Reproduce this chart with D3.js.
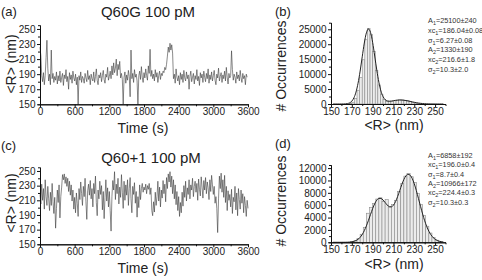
<!DOCTYPE html>
<html>
<head>
<meta charset="utf-8">
<script src="https://cdn.jsdelivr.net/npm/d3@7"></script>
<style>
  body { margin: 0; background: #fff; }
  svg { display: block; font-family: "Liberation Sans", Arial, sans-serif; }
  .axis path, .axis line { stroke: #111; stroke-width: 1; }
  .axis text { font-size: 10px; fill: #222; }
  .panel-tag { font-size: 13px; fill: #222; }
  .title { font-size: 15px; fill: #222; }
  .axis-title { font-size: 14px; fill: #222; }
  .fit-note { font-size: 7.3px; fill: #333; }
</style>
</head>
<body>
<svg id="chart" width="482" height="280"></svg>
<script>
// ---- data ----
const traceStep = 15; // seconds between samples
const timeTicks = [0, 600, 1200, 1800, 2400, 3000, 3600];
const radiusTicks = [150, 170, 190, 210, 230, 250];

// (a) Q60G 100 pM
const traceA = [
  226, 214, 188, 180, 192, 176, 188, 212, 235, 198,
  181, 190, 176, 222, 184, 191, 179, 187, 182, 193,
  177, 188, 181, 194, 179, 186, 191, 175, 189, 184,
  196, 180, 187, 170, 192, 183, 189, 178, 194, 185,
  181, 190, 176, 186, 150, 188, 182, 193, 179, 187,
  184, 178, 191, 185, 180, 195, 183, 188, 176, 190,
  184, 181, 193, 179, 187, 197, 182, 176, 189, 185,
  192, 180, 188, 195, 183, 178, 190, 186, 199, 182,
  187, 194, 184, 201, 189, 205, 192, 198, 210, 188,
  203, 196, 207, 185, 191, 183, 150, 186, 193, 178,
  189, 182, 195, 187, 160, 222, 184, 191, 179, 196,
  186, 190, 181, 150, 188, 194, 183, 200, 186, 179,
  192, 185, 197, 188, 182, 201, 191, 223, 187, 195,
  184, 190, 181, 196, 186, 192, 179, 188, 194, 183,
  191, 188, 194, 192, 199, 196, 203, 214, 226, 219,
  231, 222, 229, 218, 184, 190, 178, 197, 186, 181,
  188, 176, 192, 183, 190, 179, 195, 185, 181, 193,
  184, 189, 170, 187, 194, 180, 186, 191, 177, 188,
  183, 196, 181, 187, 175, 192, 185, 190, 179, 194,
  186, 180, 191, 184, 197, 178, 189, 183, 193, 181,
  188, 195, 182, 176, 190, 185, 198, 181, 187, 192,
  179, 189, 184, 194, 181, 199, 186, 177, 191, 185,
  188, 221, 196, 182, 190, 186, 178, 193, 184, 189,
  181, 195, 185, 179, 191, 184, 188, 176, 190, 186
];

// (c) Q60+1 100 pM
const traceC = [
  218, 205, 232, 210, 226, 198, 238, 215, 203, 229,
  212, 196, 221, 203, 233, 208, 192, 214, 172, 199,
  224, 207, 231, 186, 215, 228, 245, 238, 246, 233,
  242, 229, 240, 222, 236, 217, 231, 209, 224, 198,
  214, 193, 220, 206, 188, 226, 211, 235, 219, 203,
  229, 215, 240, 208, 184, 223, 232, 217, 237, 212,
  226, 201, 233, 219, 243, 207, 189, 224, 212, 236,
  218, 230, 197, 222, 185, 214, 238, 209, 227, 201,
  222, 196, 168, 215, 237, 224, 249, 211, 232, 219,
  240, 205, 228, 214, 245, 221, 199, 236, 210, 231,
  217, 238, 203, 226, 241, 212, 193, 229, 218, 234,
  206, 222, 187, 215, 200, 231, 211, 226, 233, 221,
  228, 224, 232, 219, 230, 225, 233, 218, 227, 196,
  189, 208, 194, 221, 203, 215, 236, 209, 228, 201,
  224, 213, 237, 219, 232, 208, 241, 226, 246, 235,
  249, 228, 243, 219, 238, 212, 231, 204, 222, 196,
  215, 188, 207, 193, 221, 202, 230, 214, 236, 209,
  227, 218, 238, 212, 231, 224, 240, 215, 229, 236,
  221, 233, 210, 239, 225, 216, 242, 228, 213, 237,
  224, 241, 219, 235, 227, 211, 238, 222, 244, 231,
  218, 229, 206, 215, 199, 166, 212, 243, 226, 247,
  221, 238, 214, 244, 207, 229, 196, 223, 210, 218,
  201, 225, 192, 214, 208, 229, 197, 220, 189, 226,
  211, 198, 224, 206, 219, 193, 215, 203, 188, 210, 199
];

// (b) histogram of trace (a)
const binsB = [168.75, 171.25, 173.75, 176.25, 178.75, 181.25, 183.75, 186.25, 188.75, 191.25,
  193.75, 196.25, 198.75, 201.25, 203.75, 206.25, 208.75, 211.25, 213.75, 216.25,
  218.75, 221.25, 223.75, 226.25, 228.75, 231.25, 233.75, 236.25];
const countsB = [150, 600, 1900, 4600, 8800, 14800, 21500, 25300, 23200, 17600,
  11200, 6400, 3100, 1500, 900, 800, 900, 1100, 1300, 1400,
  1350, 1200, 1050, 800, 550, 350, 200, 100];
const countTicksB = [0, 5000, 10000, 15000, 20000, 25000];

// (d) histogram of trace (c)
const binsD = [170.5, 173.5, 176.5, 179.5, 182.5, 185.5, 188.5, 191.5, 194.5, 197.5,
  200.5, 203.5, 206.5, 209.5, 212.5, 215.5, 218.5, 221.5, 224.5, 227.5,
  230.5, 233.5, 236.5, 239.5, 242.5, 245.5, 248.5, 251.5, 254.5];
const countsD = [120, 250, 620, 1300, 2400, 4700, 5600, 6300, 7000, 7200,
  6600, 6900, 5700, 6100, 6800, 8200, 9500, 10700, 11100, 10600,
  9700, 7900, 6100, 4300, 2600, 1500, 800, 350, 150];
const countTicksD = [0, 2000, 4000, 6000, 8000, 10000, 12000];

// fitted curves, sampled every 2 nm
const fitX = [152, 154, 156, 158, 160, 162, 164, 166, 168, 170, 172, 174, 176, 178, 180, 182, 184, 186,
  188, 190, 192, 194, 196, 198, 200, 202, 204, 206, 208, 210, 212, 214, 216, 218, 220, 222,
  224, 226, 228, 230, 232, 234, 236, 238, 240, 242, 244, 246, 248, 250, 252, 254, 256, 258];
const fitB = [0, 0, 0, 0, 5, 15, 50, 155, 400, 950, 2050, 3970, 6970, 11030, 15780, 20400, 23810, 25100,
  23930, 20610, 16050, 11330, 7290, 4330, 2470, 1470, 1040, 940, 990, 1100, 1210, 1290, 1330, 1320,
  1260, 1160, 1030, 880, 720, 570, 435, 320, 225, 155, 100, 65, 40, 23, 13, 7, 4, 2, 1, 0];
const fitD = [0, 0, 0, 0, 1, 3, 8, 18, 39, 79, 153, 280, 488, 807, 1265, 1881, 2654, 3553,
  4514, 5448, 6248, 6820, 7103, 7090, 6833, 6437, 6036, 5766, 5736, 6005, 6577, 7392, 8352, 9321,
  10163, 10751, 10997, 10852, 10324, 9462, 8353, 7103, 5817, 4586, 3483, 2547, 1794, 1216, 794, 500,
  302, 177, 99, 53];

const notesB = [["A", "1", "=25100±240"], ["xc", "1", "=186.04±0.08"], ["σ", "1", "=6.27±0.08"],
  ["A", "2", "=1330±190"], ["xc", "2", "=216.6±1.8"], ["σ", "2", "=10.3±2.0"]];
const notesD = [["A", "1", "=6858±192"], ["xc", "1", "=196.0±0.4"], ["σ", "1", "=8.7±0.4"],
  ["A", "2", "=10966±172"], ["xc", "2", "=224.4±0.3"], ["σ", "2", "=10.3±0.3"]];

const svg = d3.select('#chart');

// minor ticks halfway between majors
function halfSteps(ticks) {
  return ticks.slice(1).map((t, i) => (t + ticks[i]) / 2);
}

function drawAxes(g, xScale, yScale, xTicks, yTicks) {
  const y0 = yScale.range()[0];
  const x0 = xScale.range()[0];

  g.append('g').attr('class', 'axis')
      .attr('transform', `translate(0,${y0})`)
      .call(d3.axisBottom(xScale).tickValues(halfSteps(xTicks)).tickSize(2).tickFormat(''));
  g.append('g').attr('class', 'axis')
      .attr('transform', `translate(${x0},0)`)
      .call(d3.axisLeft(yScale).tickValues(halfSteps(yTicks)).tickSize(2).tickFormat(''));

  g.append('g').attr('class', 'axis')
      .attr('transform', `translate(0,${y0})`)
      .call(d3.axisBottom(xScale).tickValues(xTicks).tickSize(3).tickSizeOuter(0)
        .tickPadding(1).tickFormat(d3.format('d')));
  g.append('g').attr('class', 'axis')
      .attr('transform', `translate(${x0},0)`)
      .call(d3.axisLeft(yScale).tickValues(yTicks).tickSize(3).tickSizeOuter(0)
        .tickPadding(1.5).tickFormat(d3.format('d')));
}

function drawText(cfg) {
  svg.append('text').attr('class', 'panel-tag')
      .attr('x', cfg.tag[0]).attr('y', cfg.tag[1]).text(cfg.tagText);
  if (cfg.title) {
    svg.append('text').attr('class', 'title')
        .attr('x', cfg.title[0]).attr('y', cfg.title[1])
        .attr('text-anchor', 'middle').text(cfg.titleText);
  }
  svg.append('text').attr('class', 'axis-title')
      .attr('x', cfg.xTitle[0]).attr('y', cfg.xTitle[1])
      .attr('text-anchor', 'middle').text(cfg.xTitleText);
  svg.append('text').attr('class', 'axis-title')
      .attr('transform', `translate(${cfg.yTitle[0]},${cfg.yTitle[1]}) rotate(-90)`)
      .attr('text-anchor', 'middle').text(cfg.yTitleText);
}

function drawTrace(cfg, values) {
  const xScale = d3.scaleLinear().domain([0, 3600]).range([cfg.left, cfg.right]);
  const yScale = d3.scaleLinear().domain([150, 255]).range([cfg.bottom, cfg.top]);
  const g = svg.append('g');

  g.append('path')
      .datum(values)
      .attr('fill', 'none')
      .attr('stroke', '#3a3a3a')
      .attr('stroke-width', 0.6)
      .attr('d', d3.line().x((d, i) => xScale(i * traceStep)).y(d => yScale(d)));

  drawAxes(g, xScale, yScale, timeTicks, radiusTicks);
  drawText(cfg);
}

function drawHist(cfg, bins, counts, width, fit, yTicks, yMax, notes) {
  const xScale = d3.scaleLinear().domain([150, 260]).range([cfg.left, cfg.right]);
  const yScale = d3.scaleLinear().domain([0, yMax]).range([cfg.bottom, cfg.top]);
  const g = svg.append('g');

  g.selectAll('.bar')
      .data(bins)
    .join('rect')
      .attr('class', 'bar')
      .attr('x', d => xScale(d - width / 2))
      .attr('width', d => xScale(d + width / 2) - xScale(d - width / 2))
      .attr('y', (d, i) => yScale(counts[i]))
      .attr('height', (d, i) => yScale(0) - yScale(counts[i]))
      .attr('fill', '#ececec')
      .attr('stroke', '#8a8a8a')
      .attr('stroke-width', 0.6);

  g.append('path')
      .datum(fit)
      .attr('fill', 'none')
      .attr('stroke', '#222')
      .attr('stroke-width', 1)
      .attr('d', d3.line().x((d, i) => xScale(fitX[i])).y(d => yScale(d)).curve(d3.curveMonotoneX));

  drawAxes(g, xScale, yScale, radiusTicks, yTicks);
  drawText(cfg);

  // fit parameters
  notes.forEach((n, i) => {
    const t = svg.append('text').attr('class', 'fit-note')
        .attr('x', cfg.notes[0]).attr('y', cfg.notes[1] + i * cfg.notes[2]);
    t.append('tspan').text(n[0]);
    t.append('tspan').attr('dy', 2).attr('font-size', '5.5px').text(n[1]);
    t.append('tspan').attr('dy', -2).text(n[2]);
  });
}

drawTrace({
  left: 40, right: 248, top: 25.2, bottom: 104.3,
  tag: [1, 16], tagText: '(a)',
  title: [148, 17], titleText: 'Q60G 100 pM',
  xTitle: [143, 133], xTitleText: 'Time (s)',
  yTitle: [16, 64], yTitleText: '<R> (nm)'
}, traceA);

drawTrace({
  left: 40, right: 248, top: 167.3, bottom: 244.3,
  tag: [1, 150], tagText: '(c)',
  title: [151, 163], titleText: 'Q60+1 100 pM',
  xTitle: [143, 273], xTitleText: 'Time (s)',
  yTitle: [16, 203], yTitleText: '<R> (nm)'
}, traceC);

drawHist({
  left: 331, right: 445.5, top: 22.7, bottom: 104,
  tag: [275, 16], tagText: '(b)',
  xTitle: [394, 129.5], xTitleText: '<R> (nm)',
  yTitle: [286, 66], yTitleText: '# Occurrences',
  notes: [428, 23, 9.8]
}, binsB, countsB, 2.5, fitB, countTicksB, 27200, notesB);

drawHist({
  left: 331, right: 445.5, top: 165, bottom: 242.3,
  tag: [275, 148], tagText: '(d)',
  xTitle: [394, 269], xTitleText: '<R> (nm)',
  yTitle: [286, 201], yTitleText: '# Occurrences',
  notes: [428, 158, 9.3]
}, binsD, countsD, 3, fitD, countTicksD, 12500, notesD);
</script>
</body>
</html>
